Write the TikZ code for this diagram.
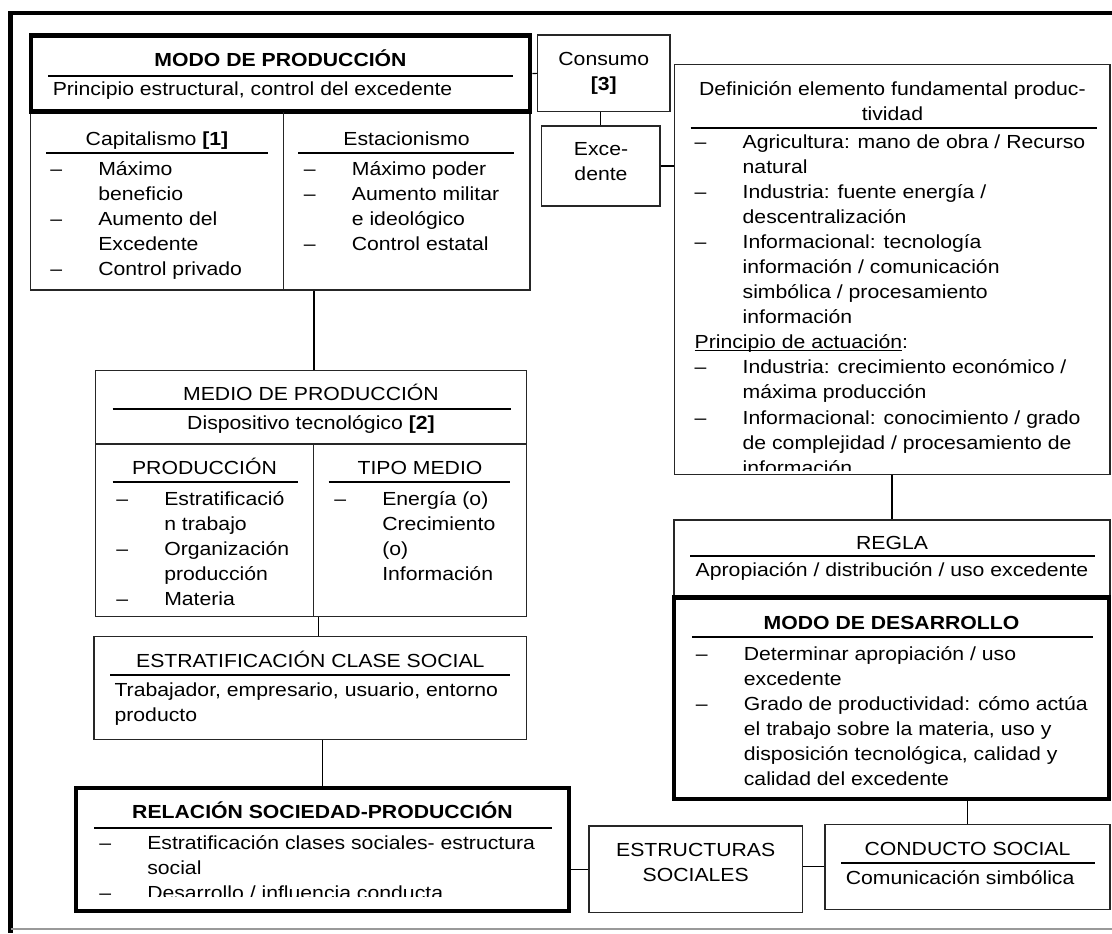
\documentclass[tikz,border=0pt]{standalone}
\usepackage{fontspec}
\setmainfont{Liberation Sans}[FakeStretch=1.12]
\usetikzlibrary{fit}

% listas con guion, y textos de varias lineas
\newcommand{\lista}[1]{\begin{tabular}[t]{@{}p{36pt}@{}l@{}}#1\end{tabular}}
\newcommand{\lineas}[1]{\begin{tabular}[t]{@{}c@{}}#1\end{tabular}}
\newcommand{\lineasizq}[1]{\begin{tabular}[t]{@{}l@{}}#1\end{tabular}}
\newcommand{\subraya}[1]{\setbox0=\hbox{#1}\rlap{\rule[-1.8pt]{\wd0}{0.8pt}}\box0}

\tikzset{
    caja/.style={draw=black!85, line width=0.9pt, inner sep=0pt},
    cajagruesa/.style={draw=black, line width=3.6pt, inner sep=0pt},
    raya/.style={line width=1.4pt},
    texto/.style={inner sep=0pt, anchor=base},
    lista/.style={inner sep=0pt, anchor=base west},
    enlace/.style={line width=0.9pt}
}

\begin{document}
\begin{tikzpicture}[x=0.75pt,y=-0.75pt,
    font=\fontsize{14.2pt}{18.8pt}\selectfont]
    \useasboundingbox (0,0) rectangle (1112,933);

    % marco
    \draw[line width=3.4pt] (1112,12.8)--(10.7,12.8)--(10.7,933);
    \draw[black!40, line width=1pt] (10.7,929)--(1112,929);

    % cajas
    \node[caja, fit={(30.4,112) (530,290)}] (sistemas) {};
    \node[caja, fit={(537.7,35) (669.9,111.7)}] (consumo) {};
    \node[caja, fit={(541.5,126) (660,206)}] (excedente) {};
    \node[caja, fit={(674.8,64.3) (1110,474.3)}] (definicion) {};
    \node[caja, fit={(95.7,370.7) (526.8,616.7)}] (medio) {};
    \node[caja, fit={(93.9,636.7) (526.8,739.3)}] (estrat) {};
    \node[caja, fit={(674,520) (1110,597.5)}] (regla) {};
    \node[caja, fit={(589,826) (802.4,912.7)}] (estructuras) {};
    \node[caja, fit={(825,824.3) (1110,909.3)}] (conducto) {};
    \node[cajagruesa, fit={(31,35.5) (530,111.5)}] (modoprod) {};
    \node[cajagruesa, fit={(674,597.5) (1109,799)}] (desarrollo) {};
    \node[cajagruesa, fit={(76,788) (569,911)}] (relacion) {};

    % divisiones
    \draw[caja] (283.2,112)--(283.2,290);
    \draw[caja] (95.7,444)--(526.8,444);
    \draw[caja] (313.2,444)--(313.2,616.7);

    % modo de produccion
    \node[texto] (tmodoprod) at (280.5,66.7) {\bfseries MODO DE PRODUCCIÓN};
    \draw[raya] (48,76)--(512.5,76);
    \node[lista] (smodoprod) at (52.5,95) {Principio estructural, control del excedente};

    \node[texto] (tcapital) at (157,145) {Capitalismo \textbf{[1]}};
    \node[texto] (testacion) at (406.5,145) {Estacionismo};
    \draw[raya] (46.4,153.3)--(267.9,153.3);
    \draw[raya] (298.2,153.3)--(514.3,153.3);
    \node[lista] (lcapital) at (50,175) {\lista{
        – & Máximo\\ & beneficio\\
        – & Aumento del\\ & Excedente\\
        – & Control privado}};
    \node[lista] (lestacion) at (303.6,175) {\lista{
        – & Máximo poder\\
        – & Aumento militar\\ & e ideológico\\
        – & Control estatal}};

    \node[texto] (tconsumo) at (603.8,65) {\lineas{Consumo\\ \textbf{[3]}}};
    \node[texto] (texcedente) at (601,155) {\lineas{Exce-\\ dente}};

    % definicion
    \node[texto] (tdefinicion) at (892.4,95)
        {\lineas{Definición elemento fundamental produc-\\ tividad}};
    \draw[raya] (690.7,127.7)--(1096.5,127.7);
    \begin{scope}
        \clip (674.8,64.3) rectangle (1110,470.5);
        \node[lista] (ldefinicion) at (694.4,148.3) {\lista{
            – & Agricultura: mano de obra / Recurso\\ & natural\\
            – & Industria: fuente energía /\\ & descentralización\\
            – & Informacional: tecnología\\ & información / comunicación\\
              & simbólica / procesamiento\\ & información\\
            \multicolumn{2}{@{}l@{}}{\subraya{Principio de actuación}:}\\
            – & Industria: crecimiento económico /\\ & máxima producción\\
            – & Informacional: conocimiento / grado\\
              & de complejidad / procesamiento de\\ & información}};
    \end{scope}

    % medio de produccion
    \node[texto] (tmedio) at (311,400.5) {MEDIO DE PRODUCCIÓN};
    \draw[raya] (112.5,409.3)--(510.7,409.3);
    \node[texto] (smedio) at (311,429.5) {Dispositivo tecnológico \textbf{[2]}};
    \node[texto] (tproduccion) at (204.5,474) {PRODUCCIÓN};
    \node[texto] (ttipo) at (420,474) {TIPO MEDIO};
    \draw[raya] (112.5,482.3)--(297.5,482.3);
    \draw[raya] (328.6,482.3)--(510,482.3);
    \node[lista] (lproduccion) at (116,505) {\lista{
        – & Estratificació\\ & n trabajo\\
        – & Organización\\ & producción\\
        – & Materia}};
    \node[lista] (ltipo) at (334,505) {\lista{
        – & Energía (o)\\ & Crecimiento\\ & (o)\\ & Información}};

    % estratificacion
    \node[texto] (testrat) at (310.3,667.3) {ESTRATIFICACIÓN CLASE SOCIAL};
    \draw[raya] (110,674.7)--(510,674.7);
    \node[lista] (sestrat) at (114.3,696)
        {\lineasizq{Trabajador, empresario, usuario, entorno\\ producto}};

    % relacion sociedad-produccion
    \node[texto] (trelacion) at (322.5,818.3) {\bfseries RELACIÓN SOCIEDAD-PRODUCCIÓN};
    \draw[raya] (94,828.3)--(552,828.3);
    \begin{scope}
        \clip (76,788) rectangle (569,896);
        \node[lista] (lrelacion) at (99,849.3) {\lista{
            – & Estratificación clases sociales- estructura\\ & social\\
            – & Desarrollo / influencia conducta}};
    \end{scope}

    \node[texto] (testructuras) at (695.7,856) {\lineas{ESTRUCTURAS\\ SOCIALES}};

    \node[texto] (tconducto) at (967.5,855) {CONDUCTO SOCIAL};
    \draw[raya] (841,862.7)--(1094.6,862.7);
    \node[lista] (sconducto) at (845.5,884) {Comunicación simbólica};

    % regla y modo de desarrollo
    \node[texto] (tregla) at (892,549.3) {REGLA};
    \draw[raya] (690,556)--(1094.6,556);
    \node[texto] (sregla) at (892,576) {Apropiación / distribución / uso excedente};

    \node[texto] (tdesarrollo) at (891.5,629.3) {\bfseries MODO DE DESARROLLO};
    \draw[raya] (691.8,637.3)--(1093,637.3);
    \node[lista] (ldesarrollo) at (695.6,660) {\lista{
        – & Determinar apropiación / uso\\ & excedente\\
        – & Grado de productividad: cómo actúa\\
          & el trabajo sobre la materia, uso y\\
          & disposición tecnológica, calidad y\\
          & calidad del excedente}};

    % enlaces
    \draw[enlace] (modoprod.east)--(consumo.west);
    \draw[enlace] (excedente.north)--(excedente.north |- consumo.south);
    \draw[enlace] (excedente.east)--(excedente.east -| definicion.west);
    \draw[enlace] ([xshift=2pt]medio.north)--([xshift=2pt]medio.north |- sistemas.south);
    \draw[enlace] ([xshift=6pt]estrat.north)--([xshift=6pt]estrat.north |- medio.south);
    \draw[enlace] (relacion.north)--(relacion.north |- estrat.south);
    \draw[enlace] (regla.north)--(regla.north |- definicion.south);
    \draw[enlace] (conducto.north)--(conducto.north |- desarrollo.south);
    \draw[enlace] (estructuras.west)--(estructuras.west -| relacion.east);
    \draw[enlace] (conducto.west)--(conducto.west -| estructuras.east);
\end{tikzpicture}
\end{document}
